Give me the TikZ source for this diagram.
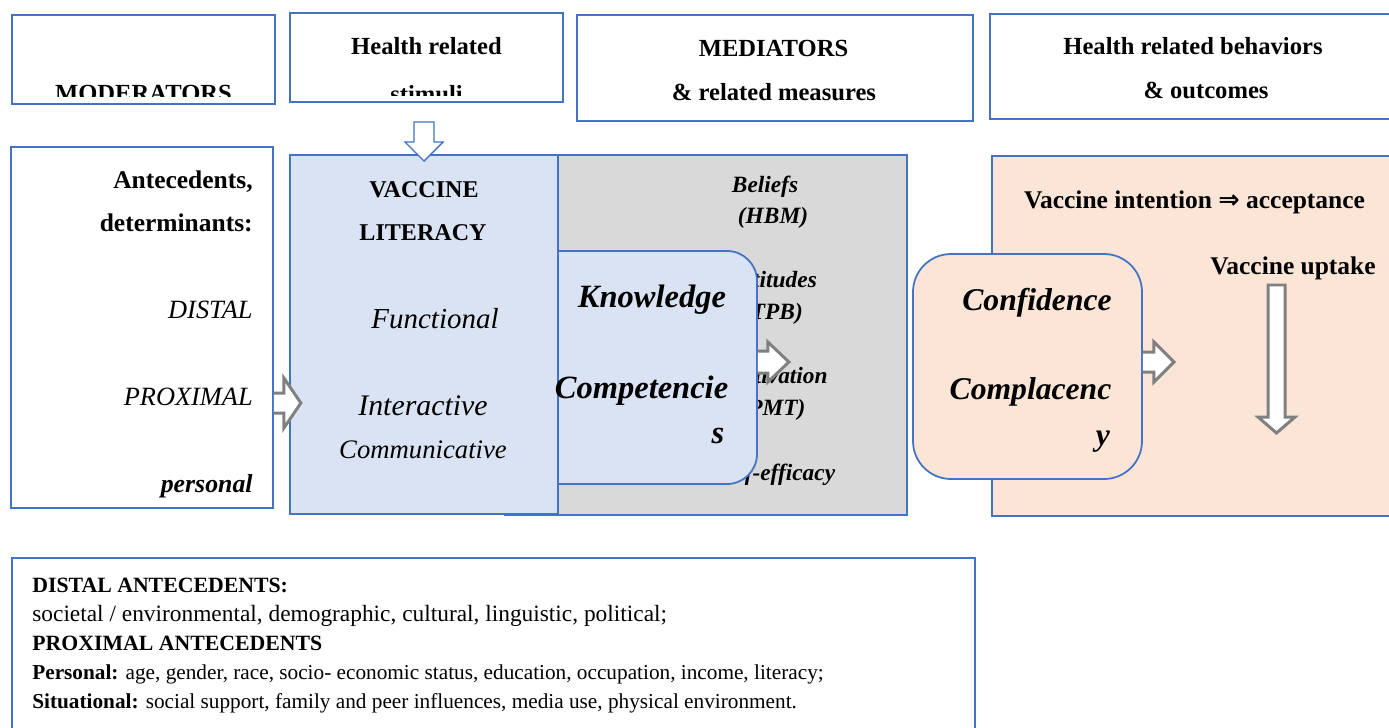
\documentclass[tikz,border=0pt]{standalone}
\usepackage{fontspec}
\setmainfont{Liberation Serif}
\newfontfamily\arrowfont{DejaVu Sans}
\usepackage{xcolor}
\usetikzlibrary{fit,positioning}

\definecolor{boxblue}{HTML}{4472C4}
\definecolor{litblue}{HTML}{DAE3F3}
\definecolor{medgray}{HTML}{D9D9D9}
\definecolor{peach}{HTML}{FBE5D6}
\definecolor{arrgray}{HTML}{808080}

\tikzset{
  box/.style={draw=boxblue, line width=1pt, inner sep=0pt},
  lbl/.style={inner sep=0pt, anchor=base},
  rlbl/.style={inner sep=0pt, anchor=base east},
  llbl/.style={inner sep=0pt, anchor=base west},
  blockarrow/.style={draw=arrgray, line width=1.7pt, line join=miter},
  thinarrow/.style={draw=boxblue, line width=0.8pt, line join=miter},
}

\newcommand{\fsz}[1]{\fontsize{#1}{#1}\selectfont}

% open block arrows: start, length, head length, shaft half, head half, style
\newcommand{\blockright}[6]{%
  \fill[white] (#1) ++(0,-#4) -- ++(#2-#3,0) -- ++(0,#4-#5) -- ++(#3,#5) -- ++(-#3,#5) -- ++(0,#4-#5) -- ++(#3-#2,0) -- cycle;
  \draw[#6] (#1) ++(0,-#4) -- ++(#2-#3,0) -- ++(0,#4-#5) -- ++(#3,#5) -- ++(-#3,#5) -- ++(0,#4-#5) -- ++(#3-#2,0);
}
\newcommand{\blockdown}[6]{%
  \filldraw[fill=white, #6] (#1) ++(-#4,0) -- ++(0,#2-#3) -- ++(#4-#5,0) -- ++(#5,#3) -- ++(#5,-#3) -- ++(#4-#5,0) -- ++(0,#3-#2) -- cycle;
}

\begin{document}
\begin{tikzpicture}[x=0.02cm, y=-0.02cm]
\clip (0,0) rectangle (1389,727);
\fill[white] (0,0) rectangle (1389,727);

% headers
\node[box, fit={(12,15) (275,104)}] (moder) {};
\node[box, fit={(290,13) (563,102)}] (stim) {};
\node[box, fit={(577,15) (973,121)}] (medi) {};
\node[box, fit={(990,14) (1400,119)}] (behav) {};

\begin{scope}
  \clip (12,15) rectangle (275,96);
  \node[lbl] at (143.5,101) (modtxt) {\fsz{14}\bfseries MODERATORS};
\end{scope}
\node[lbl] at (426.5,54) (stimtxt) {\fsz{14}\bfseries Health related};
\begin{scope}
  \clip (290,13) rectangle (563,95);
  \node[lbl] at (426.5,102) (stimtxt2) {\fsz{14}\bfseries stimuli};
\end{scope}
\node[lbl] at (773.5,56) (meditxt) {\fsz{14}\bfseries MEDIATORS};
\node[lbl] at (774,100) (meditxt2) {\fsz{14}\bfseries \& related measures};
\node[lbl] at (1193,54) (behavtxt) {\fsz{14}\bfseries Health related behaviors};
\node[lbl] at (1206,98) (behavtxt2) {\fsz{14}\bfseries \& outcomes};

% antecedents
\node[box, fit={(11,147) (273,508)}] (antec) {};
\node[rlbl] at (253,188) (ante1) {\fsz{14.5}\bfseries Antecedents,};
\node[rlbl] at (253,231) (ante2) {\fsz{14.5}\bfseries determinants:};
\node[rlbl] at (253,318) (distal) {\fsz{15}\itshape DISTAL};
\node[rlbl] at (253,405) (proximal) {\fsz{15}\itshape PROXIMAL};
\node[rlbl] at (253,492) (personal) {\fsz{14.7}\bfseries\itshape personal};

% mediators
\node[box, fill=medgray, fit={(505,155) (907,515)}] (medbox) {};
\node[lbl] at (765,192) (beliefs) {\fsz{13.3}\bfseries\itshape Beliefs};
\node[lbl] at (773,223) (hbm) {\fsz{13.3}\bfseries\itshape (HBM)};
\node[lbl] at (774,287) (attit) {\fsz{13.3}\bfseries\itshape Attitudes};
\node[lbl] at (773,319) (tpb) {\fsz{13.3}\bfseries\itshape (TPB)};
\node[lbl] at (775,383) (motiv) {\fsz{13.3}\bfseries\itshape Motivation};
\node[lbl] at (773,415) (pmt) {\fsz{13.3}\bfseries\itshape (PMT)};
\node[lbl] at (775,480) (selfeff) {\fsz{13.3}\bfseries\itshape Self-efficacy};

\node[box, fill=litblue, fit={(290,155) (558,514)}] (vlit) {};
\node[lbl] at (424,197) (vl1) {\fsz{13.7}\bfseries VACCINE};
\node[lbl] at (423,240) (vl2) {\fsz{13.7}\bfseries LITERACY};
\node[lbl] at (435,328) (funct) {\fsz{16.5}\itshape Functional};
\node[lbl] at (423,415) (inter) {\fsz{17}\itshape Interactive};
\node[lbl] at (423,458) (commu) {\fsz{15.2}\itshape Communicative};

\begin{scope}
  \clip (558,240) rectangle (800,500);
  \node[box, fill=litblue, rounded corners=0.6cm, fit={(528,251) (757,484)}] (know) {};
\end{scope}
\draw[boxblue, line width=1pt] (558,251) -- (558,484);
\node[lbl] at (652,307) (knowtxt) {\fsz{18.5}\bfseries\itshape Knowledge};
\node[lbl] at (641.5,398) (comptxt) {\fsz{18.5}\bfseries\itshape Competencie};
\node[lbl] at (718,443) (comptxt2) {\fsz{18.5}\bfseries\itshape s};

% outcomes
\node[box, fill=peach, fit={(992,156) (1400,516)}] (outc) {};
\node[lbl] at (1194.5,208) (intent) {\fsz{14.5}\bfseries Vaccine intention {\arrowfont ⇒} acceptance};
\node[lbl] at (1293,274) (uptake) {\fsz{14.5}\bfseries Vaccine uptake};

\node[box, fill=peach, rounded corners=0.76cm, fit={(913,254) (1142,479)}] (conf) {};
\node[lbl] at (1037,310) (conftxt) {\fsz{18}\bfseries\itshape Confidence};
\node[lbl] at (1030.5,399) (compl) {\fsz{18}\bfseries\itshape Complacenc};
\node[lbl] at (1103,445) (compl2) {\fsz{18}\bfseries\itshape y};

% arrows
\coordinate (a1) at (antec.east |- 0,403);
\coordinate (a2) at (know.east |- 0,362);
\coordinate (a3) at (conf.east |- 0,362);
\coordinate (a4) at (vlit.north |- 0,122);
\coordinate (a5) at (1276.5,285);
\blockright{a1}{27}{17}{10}{25}{blockarrow}
\blockright{a2}{31}{21}{11}{20}{blockarrow}
\blockright{a3}{31}{20}{10}{20}{blockarrow}
\blockdown{a4}{39}{19}{10}{19}{thinarrow}
\blockdown{a5}{148}{16}{8.5}{18.5}{blockarrow}

% legend
\node[box, fit={(12,558) (975,740)}] (legend) {};
\node[llbl] at (32,592) (leg1) {\fsz{12.4}\bfseries DISTAL ANTECEDENTS:};
\node[llbl] at (32,621) (leg2) {\fsz{13.3}societal / environmental, demographic, cultural, linguistic, political;};
\node[llbl] at (32,650) (leg3) {\fsz{12.4}\bfseries PROXIMAL ANTECEDENTS};
\node[llbl] at (32,679) (leg4) {\fsz{12.1}\textbf{Personal:} age, gender, race, socio- economic status, education, occupation, income, literacy;};
\node[llbl] at (32,708) (leg5) {\fsz{12.1}\textbf{Situational:} social support, family and peer influences, media use, physical environment.};
\end{tikzpicture}
\end{document}
